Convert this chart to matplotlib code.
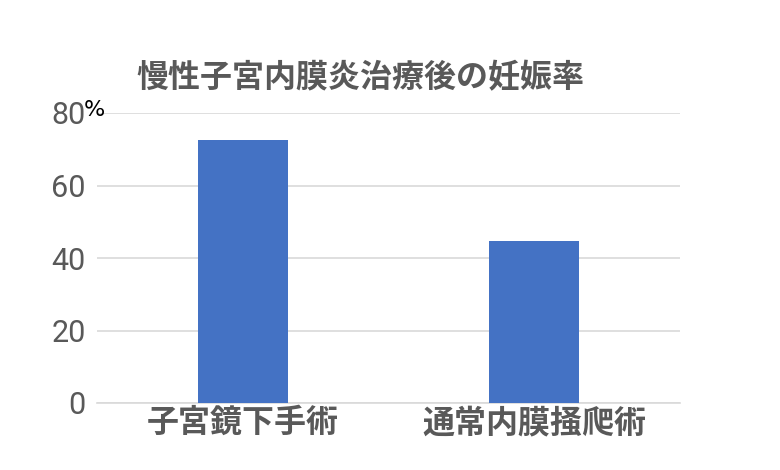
import matplotlib
matplotlib.use("Agg")
import matplotlib.pyplot as plt
from matplotlib import font_manager

categories = ["子宮鏡下手術", "通常内膜掻爬術"]
values = [72.5, 44.6]
yticks = [0, 20, 40, 60, 80]
title = "慢性子宮内膜炎治療後の妊娠率"

names = {f.name for f in font_manager.fontManager.ttflist}
num_font = "Liberation Sans Narrow" if "Liberation Sans Narrow" in names else "Roboto"

plt.rcParams['font.family'] = ['Noto Sans CJK JP', 'DejaVu Sans']

fig = plt.figure(figsize=(7.8, 4.7), dpi=100)
ax = fig.add_axes([97/780, 1-403/470, (680-97)/780, (403-113)/470])

x = list(range(len(categories)))
ax.bar(x, values, width=0.31, color="#4472C4", zorder=3)
ax.set_xlim(-0.5, 1.5)
ax.set_ylim(0, 80)
ax.set_yticks(yticks)
ax.set_yticklabels([str(t) for t in yticks], family=[num_font, 'DejaVu Sans'],
                   fontsize=22, color="#595959")
ax.set_xticks(x)
ax.set_xticklabels(categories, fontsize=23, fontweight='bold', color="#595959")
ax.tick_params(axis='both', length=0)
ax.tick_params(axis='y', pad=8)
ax.tick_params(axis='x', pad=3)
ax.grid(axis='y', color="#d9d9d9", linewidth=1.2, zorder=0)
for s in ['top', 'right', 'left']:
    ax.spines[s].set_visible(False)
ax.spines['bottom'].set_color("#d9d9d9")
ax.spines['bottom'].set_linewidth(1.2)

fig.text(360/780, 1-78/470, title, fontsize=23, fontweight='bold', color="#595959",
         ha='center', va='center')
fig.text(94/780, 1-110/470, "%", fontsize=16, color="black", ha='center', va='center',
         family=['DejaVu Sans'])

fig.savefig("out.png", dpi=100)
